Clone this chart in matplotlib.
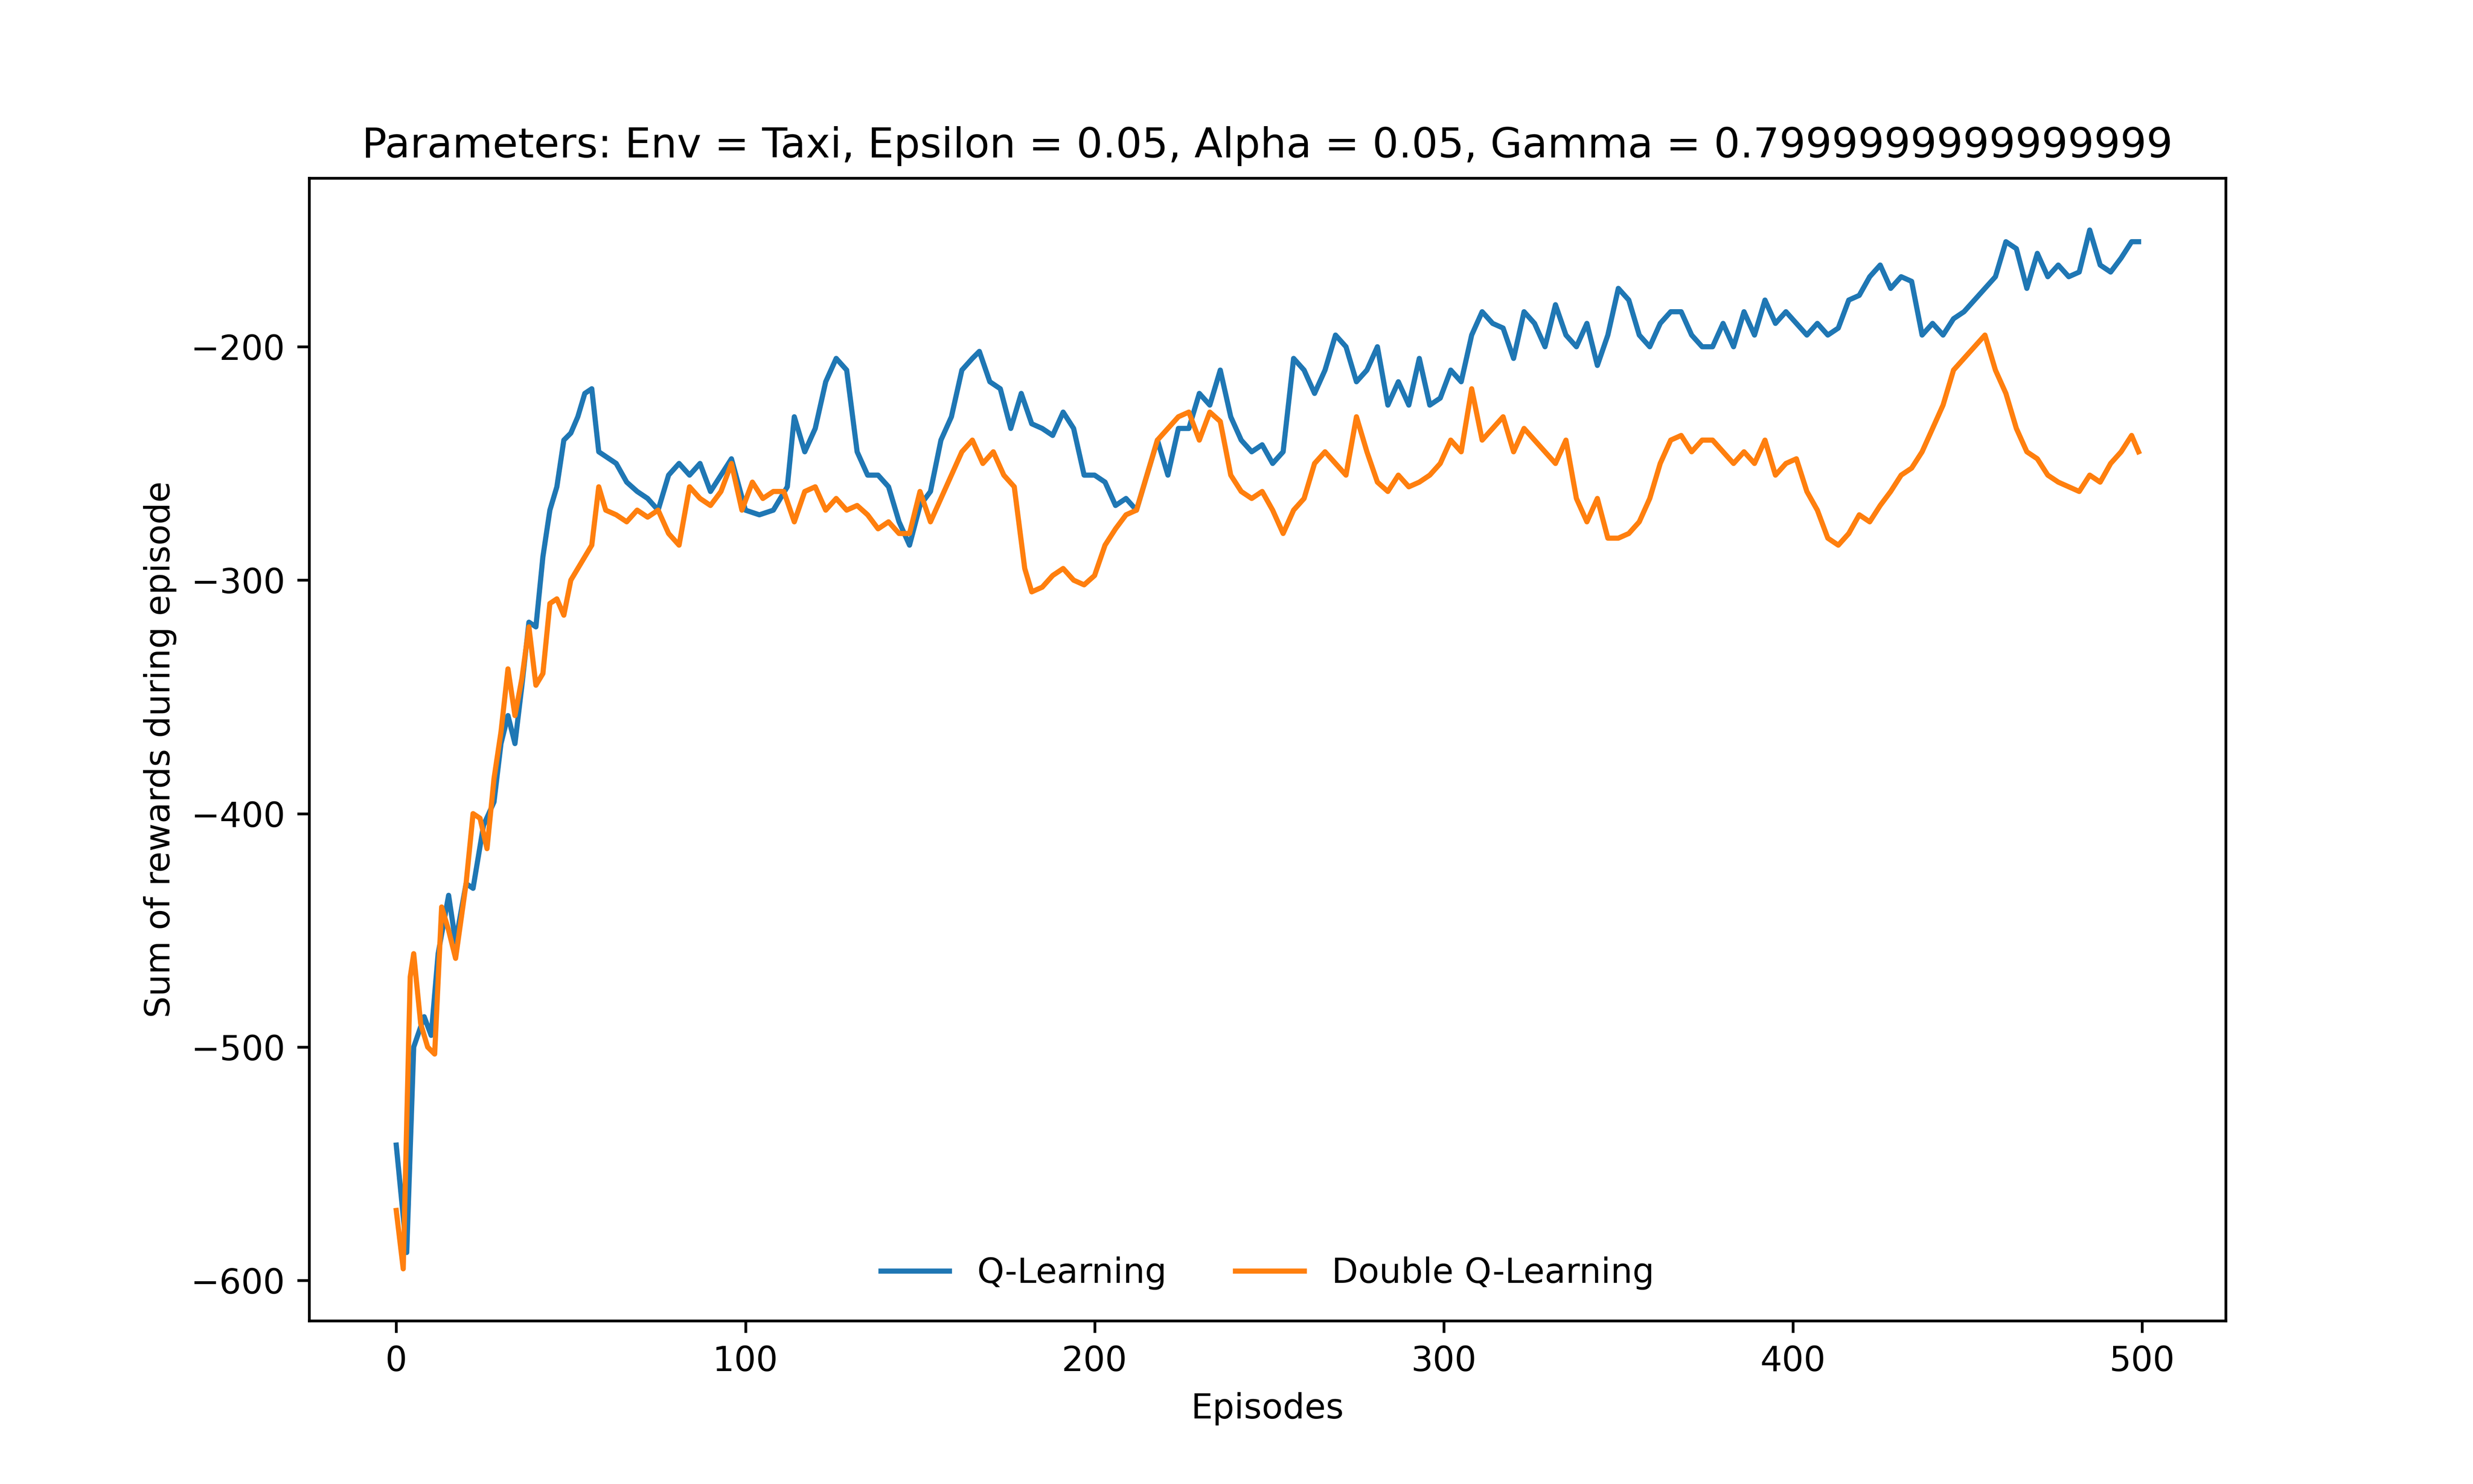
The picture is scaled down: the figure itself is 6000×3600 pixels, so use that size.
import matplotlib
matplotlib.use("Agg")
import matplotlib.pyplot as plt

# episodes / rewards
q_ep = [0, 3, 5, 8, 10, 12, 15, 17, 20, 22, 25, 28, 30, 32, 34, 36, 38, 40, 42, 44, 46, 48, 50, 52, 54, 56,
        58, 60, 63, 66, 69, 72, 75, 78, 81, 84, 87, 90, 93, 96, 100, 104, 108, 112, 114, 117, 120, 123, 126,
        129, 132, 135, 138, 141, 144, 147, 150, 153, 156, 159, 162, 165, 167, 170, 173, 176, 179, 182, 185,
        188, 191, 194, 197, 200, 203, 206, 209, 212, 215, 218, 221, 224, 227, 230, 233, 236, 239, 242, 245,
        248, 251, 254, 257, 260, 263, 266, 269, 272, 275, 278, 281, 284, 287, 290, 293, 296, 299, 302, 305,
        308, 311, 314, 317, 320, 323, 326, 329, 332, 335, 338, 341, 344, 347, 350, 353, 356, 359, 362, 365,
        368, 371, 374, 377, 380, 383, 386, 389, 392, 395, 398, 401, 404, 407, 410, 413, 416, 419, 422, 425,
        428, 431, 434, 437, 440, 443, 446, 449, 452, 455, 458, 461, 464, 467, 470, 473, 476, 479, 482, 485,
        488, 491, 494, 497, 499]
q_rew = [-542, -588, -500, -487, -495, -460, -435, -455, -430, -432, -405, -395, -370, -358, -370, -345, -318,
         -320, -290, -270, -260, -240, -237, -230, -220, -218, -245, -247, -250, -258, -262, -265, -270, -255,
         -250, -255, -250, -262, -255, -248, -270, -272, -270, -260, -230, -245, -235, -215, -205, -210, -245,
         -255, -255, -260, -275, -285, -268, -262, -240, -230, -210, -205, -202, -215, -218, -235, -220, -233,
         -235, -238, -228, -235, -255, -255, -258, -268, -265, -270, -255, -240, -255, -235, -235, -220, -225,
         -210, -230, -240, -245, -242, -250, -245, -205, -210, -220, -210, -195, -200, -215, -210, -200, -225,
         -215, -225, -205, -225, -222, -210, -215, -195, -185, -190, -192, -205, -185, -190, -200, -182, -195,
         -200, -190, -208, -195, -175, -180, -195, -200, -190, -185, -185, -195, -200, -200, -190, -200, -185,
         -195, -180, -190, -185, -190, -195, -190, -195, -192, -180, -178, -170, -165, -175, -170, -172, -195,
         -190, -195, -188, -185, -180, -175, -170, -155, -158, -175, -160, -170, -165, -170, -168, -150, -165,
         -168, -162, -155, -155]

dq_ep = [0, 2, 4, 5, 7, 9, 11, 13, 15, 17, 20, 22, 24, 26, 28, 30, 32, 34, 36, 38, 40, 42, 44, 46, 48, 50,
         52, 54, 56, 58, 60, 63, 66, 69, 72, 75, 78, 81, 84, 87, 90, 93, 96, 99, 102, 105, 108, 111, 114, 117,
         120, 123, 126, 129, 132, 135, 138, 141, 144, 147, 150, 153, 156, 159, 162, 165, 168, 171, 174, 177,
         180, 182, 185, 188, 191, 194, 197, 200, 203, 206, 209, 212, 215, 218, 221, 224, 227, 230, 233, 236,
         239, 242, 245, 248, 251, 254, 257, 260, 263, 266, 269, 272, 275, 278, 281, 284, 287, 290, 293, 296,
         299, 302, 305, 308, 311, 314, 317, 320, 323, 326, 329, 332, 335, 338, 341, 344, 347, 350, 353, 356,
         359, 362, 365, 368, 371, 374, 377, 380, 383, 386, 389, 392, 395, 398, 401, 404, 407, 410, 413, 416,
         419, 422, 425, 428, 431, 434, 437, 440, 443, 446, 449, 452, 455, 458, 461, 464, 467, 470, 473, 476,
         479, 482, 485, 488, 491, 494, 497, 499]
dq_rew = [-570, -595, -470, -460, -490, -500, -503, -440, -450, -462, -430, -400, -402, -415, -385, -365,
          -338, -358, -342, -320, -345, -340, -310, -308, -315, -300, -295, -290, -285, -260, -270, -272, -275,
          -270, -273, -270, -280, -285, -260, -265, -268, -262, -250, -270, -258, -265, -262, -262, -275, -262,
          -260, -270, -265, -270, -268, -272, -278, -275, -280, -280, -262, -275, -265, -255, -245, -240, -250,
          -245, -255, -260, -295, -305, -303, -298, -295, -300, -302, -298, -285, -278, -272, -270, -255, -240,
          -235, -230, -228, -240, -228, -232, -255, -262, -265, -262, -270, -280, -270, -265, -250, -245, -250,
          -255, -230, -245, -258, -262, -255, -260, -258, -255, -250, -240, -245, -218, -240, -235, -230, -245,
          -235, -240, -245, -250, -240, -265, -275, -265, -282, -282, -280, -275, -265, -250, -240, -238, -245,
          -240, -240, -245, -250, -245, -250, -240, -255, -250, -248, -262, -270, -282, -285, -280, -272, -275,
          -268, -262, -255, -252, -245, -235, -225, -210, -205, -200, -195, -210, -220, -235, -245, -248, -255,
          -258, -260, -262, -255, -258, -250, -245, -238, -245]

fig, ax = plt.subplots(figsize=(10, 6))
ax.plot(q_ep, q_rew, label="Q-Learning")
ax.plot(dq_ep, dq_rew, label="Double Q-Learning")
ax.set_xlabel("Episodes")
ax.set_ylabel("Sum of rewards during episode")
ax.set_title("Parameters: Env = Taxi, Epsilon = 0.05, Alpha = 0.05, Gamma = 0.7999999999999999")
ax.set_yticks([-600, -500, -400, -300, -200])
ax.legend(loc="lower center", ncol=2, frameon=False)
fig.savefig("out.png", dpi=600)
